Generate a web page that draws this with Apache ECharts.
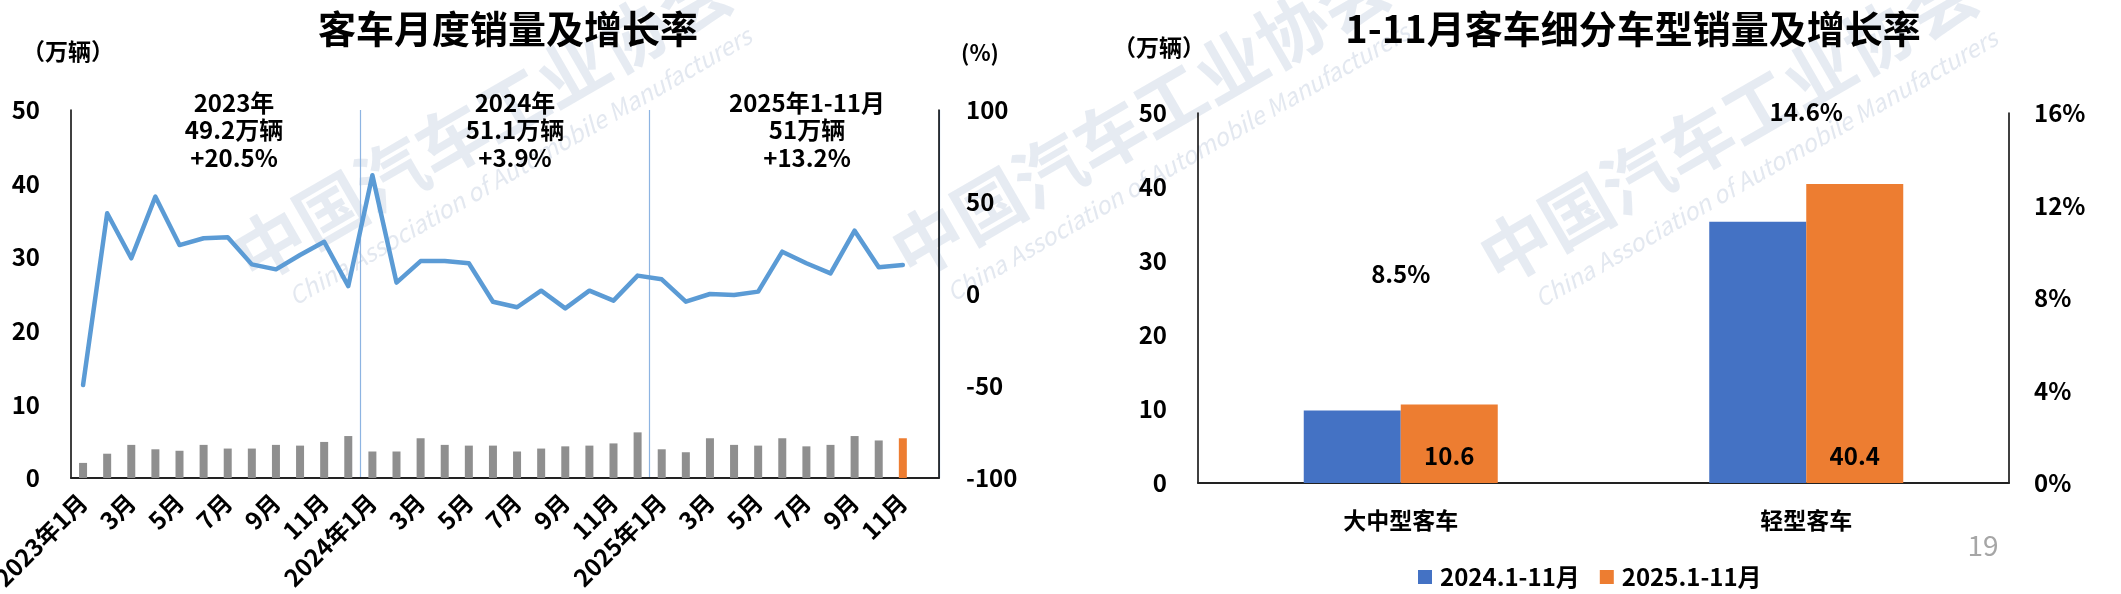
<!DOCTYPE html>
<html><head><meta charset="utf-8">
<script src="https://cdn.jsdelivr.net/npm/echarts@6/dist/echarts.min.js"></script>
<style>html,body{margin:0;padding:0;background:#fff}#c{width:2121px;height:594px}</style>
</head><body><div id="c"></div>
<script>
// ---------- data ----------
const months = ['2023年1月','2月','3月','4月','5月','6月','7月','8月','9月','10月','11月','12月',
  '2024年1月','2月','3月','4月','5月','6月','7月','8月','9月','10月','11月','12月',
  '2025年1月','2月','3月','4月','5月','6月','7月','8月','9月','10月','11月',''];
const monthlySales = [2.05,3.3,4.5,3.9,3.7,4.5,4.0,4.0,4.5,4.4,4.9,5.7,
  3.6,3.6,5.4,4.5,4.4,4.4,3.6,4.0,4.3,4.4,4.7,6.2,
  3.9,3.5,5.4,4.5,4.4,5.4,4.3,4.5,5.7,5.1,5.4];
const monthlyGrowth = [-49.5,43.9,19.4,52.9,26.6,30.3,30.8,16.1,13.4,21.2,28.4,4.3,
  64.5,6.2,17.9,17.9,16.7,-4.2,-7.2,1.8,-7.8,1.8,-3.6,10.0,
  8.0,-4.2,0.0,-0.5,1.3,23.0,16.7,11.2,34.4,14.5,15.8];
const yearTitles = ['2023年','2024年','2025年1-11月'];
const yearTotals = ['49.2万辆','51.1万辆','51万辆'];
const yearGrowth = ['+20.5%','+3.9%','+13.2%'];

const segments = ['大中型客车','轻型客车'];
const seriesNames = ['2024.1-11月','2025.1-11月'];
const sales2024 = [9.8, 35.3];
const sales2025 = [10.6, 40.4];
const segGrowth = [8.5, 14.6];

const leftTicks = {min:0, max:50, interval:10};
const pctTicks = {min:-100, max:100, interval:50};
const segPctTicks = {min:0, max:16, interval:4};

// ---------- styling ----------
const FONT = "'Noto Sans CJK SC','Noto Sans',sans-serif";
const GREY = '#8f8f8f', ORANGE = '#ED7D31', BLUE = '#4472C4', LINE = '#5B9BD5';
const lbl = (extra) => Object.assign({fontFamily:FONT, fontWeight:'bold', fontSize:24, color:'#000'}, extra||{});

const chart = echarts.init(document.getElementById('c'), null, {renderer:'canvas'});

const wmCenters = [[482,122],[1140,118],[1728,124]];
const graphics = [];
wmCenters.forEach(([cx,cy]) => {
  graphics.push({type:'text', x:cx, y:cy, rotation:Math.PI/6, z:0, silent:true,
    style:{text:'中国汽车工业协会', font:`bold 70px ${FONT}`, fill:'rgba(200,210,226,0.45)', textAlign:'center', textVerticalAlign:'middle'}});
  graphics.push({type:'text', x:cx+38, y:cy+44, rotation:Math.PI/6, z:0, silent:true,
    style:{text:'China Association of Automobile Manufacturers', font:`italic 24px ${FONT}`, fill:'rgba(200,210,226,0.5)', textAlign:'center', textVerticalAlign:'middle'}});
});
graphics.push({type:'text', x:508, y:29, z:100, style:{text:'客车月度销量及增长率', font:`bold 38px ${FONT}`, fill:'#000', textAlign:'center', textVerticalAlign:'middle'}});
graphics.push({type:'text', x:1633, y:29, z:100, style:{text:'1-11月客车细分车型销量及增长率', font:`bold 38px ${FONT}`, fill:'#000', textAlign:'center', textVerticalAlign:'middle'}});
const annX = [234, 515, 807];
yearTitles.forEach((t,i) => {
  graphics.push({type:'text', x:annX[i], y:130, z:100, style:{text:[t, yearTotals[i], yearGrowth[i]].join('\n'),
    font:`bold 24px ${FONT}`, lineHeight:27.5, fill:'#000', textAlign:'center', textVerticalAlign:'middle'}});
});
graphics.push({type:'text', x:1983, y:545, z:100, style:{text:'19', font:`28px ${FONT}`, fill:'#a6a6a6', textAlign:'center', textVerticalAlign:'middle'}});

const axisLineBlack = {show:true, lineStyle:{color:'#000', width:1.5}};

const option = {
  backgroundColor:'#fff',
  animation:false,
  graphic: graphics,
  grid:[
    {left:71, right:1182, top:110, bottom:116, outerBoundsMode:'none'},
    {left:1198, right:112, top:113, bottom:111, outerBoundsMode:'none'}
  ],
  legend:{
    data:seriesNames, left:1413, top:560, itemWidth:14, itemHeight:14, itemGap:20, icon:'rect',
    textStyle: lbl({padding:[0,0,0,3]})
  },
  xAxis:[
    {type:'category', gridIndex:0, data:months, boundaryGap:true,
     axisLine:{show:true, lineStyle:{color:'#222', width:2}}, axisTick:{show:false},
     axisLabel: lbl({interval:1, rotate:45, margin:20}),
     splitLine:{show:true, interval:(i,v)=> v==='2024年1月' || v==='2025年1月', lineStyle:{color:'#8DB4E2', width:1.2}}},
    {type:'category', gridIndex:1, data:segments,
     axisLine:{show:true, lineStyle:{color:'#222', width:2}}, axisTick:{show:false},
     axisLabel: lbl({fontSize:23, margin:26})}
  ],
  yAxis:[
    Object.assign({type:'value', gridIndex:0, position:'left', name:'（万辆）', nameLocation:'end', nameGap:47,
     nameTextStyle: lbl({fontSize:23, padding:[0,6,0,0]}),
     axisLine:axisLineBlack, axisTick:{show:false}, splitLine:{show:false},
     axisLabel: lbl({margin:31})}, leftTicks),
    Object.assign({type:'value', gridIndex:0, position:'right', name:'(%)', nameLocation:'end', nameGap:46,
     nameTextStyle: lbl({fontSize:22, padding:[0,0,0,82]}),
     axisLine:axisLineBlack, axisTick:{show:false}, splitLine:{show:false},
     axisLabel: lbl({margin:27})}, pctTicks),
    Object.assign({type:'value', gridIndex:1, position:'left', name:'（万辆）', nameLocation:'end', nameGap:54,
     nameTextStyle: lbl({fontSize:23, padding:[0,78,0,0]}),
     axisLine:axisLineBlack, axisTick:{show:false}, splitLine:{show:false},
     axisLabel: lbl({margin:31})}, leftTicks),
    Object.assign({type:'value', gridIndex:1, position:'right',
     axisLine:axisLineBlack, axisTick:{show:false}, splitLine:{show:false},
     axisLabel: lbl({margin:25, formatter:'{value}%'})}, segPctTicks)
  ],
  series:[
    {name:'月度销量', type:'bar', xAxisIndex:0, yAxisIndex:0, barWidth:8, z:2,
     itemStyle:{color:GREY},
     data: monthlySales.map((v,i) => i === monthlySales.length-1 ? {value:v, itemStyle:{color:ORANGE}} : v)},
    {name:'增长率', type:'line', xAxisIndex:0, yAxisIndex:1, showSymbol:false, symbol:'none', z:5,
     lineStyle:{color:LINE, width:4.5, join:'round', cap:'round'},
     data: monthlyGrowth},
    {name:seriesNames[0], type:'bar', xAxisIndex:1, yAxisIndex:2, barWidth:97, barGap:'0%',
     itemStyle:{color:BLUE}, data:sales2024},
    {name:seriesNames[1], type:'bar', xAxisIndex:1, yAxisIndex:2, barWidth:97, barGap:'0%',
     itemStyle:{color:ORANGE}, data:sales2025,
     label: lbl({show:true, position:'insideBottom', distance:15})},
    {name:'细分增长率', type:'scatter', xAxisIndex:1, yAxisIndex:3, symbolSize:2,
     itemStyle:{color:'rgba(0,0,0,0)', opacity:1}, z:6,
     label: lbl({show:true, position:'top', formatter:'{c}%', color:'#000', opacity:1}),
     data: segGrowth.map((v,i) => ({value:v, label:{distance: i === 0 ? 0 : 21}}))}
  ]
};
chart.setOption(option);
</script></body></html>
